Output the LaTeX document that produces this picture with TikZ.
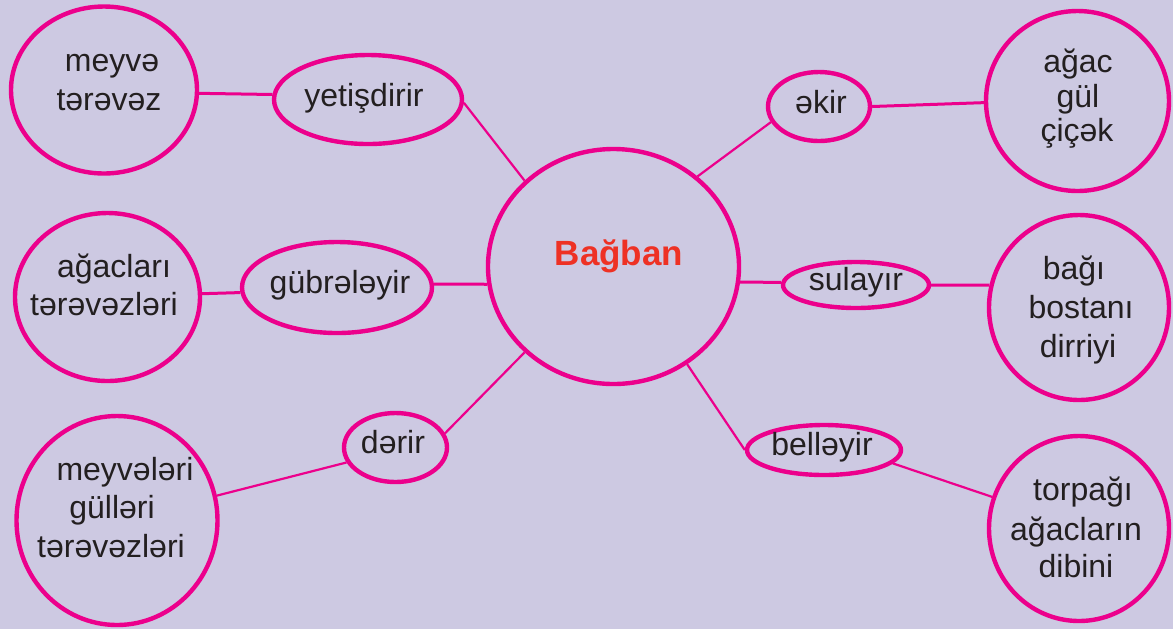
\documentclass[tikz,border=0pt]{standalone}
\usepackage{fontspec}
\setmainfont{Liberation Sans}
\usetikzlibrary{shapes.geometric}
\definecolor{bg}{HTML}{CDC9E2}
\definecolor{pinkline}{HTML}{EC008C}
\definecolor{titlered}{HTML}{EE3124}
\definecolor{ink}{HTML}{231F20}
\newcommand\lblfont{\fontsize{16}{19}\selectfont}
\newcommand\ttlfont{\fontsize{17.5}{20}\selectfont\bfseries}
\tikzset{
  oval/.style={ellipse, draw=pinkline, line width=2.2pt, inner sep=0pt},
  lbl/.style={font=\lblfont, text=ink, anchor=base, inner sep=0pt},
  link/.style={draw=pinkline, line width=1.5pt},
  dlink/.style={draw=pinkline, line width=1.1pt}
}
\begin{document}
\begin{tikzpicture}[x=0.5pt, y=-0.5pt]
\path[fill=bg, use as bounding box] (0,0) rectangle (1173,629);

% shapes
\node[oval, minimum width=93pt,   minimum height=83.5pt] (mt)   at (104,90) {};
\node[oval, minimum width=94pt,   minimum height=44.5pt] (yet)  at (368,99.5) {};
\node[oval, minimum width=51pt,   minimum height=34.5pt] (ekir) at (819,106.5) {};
\node[oval, minimum width=91.5pt, minimum height=90pt]   (agac) at (1077.5,101) {};
\node[oval, minimum width=92.5pt, minimum height=84pt]   (ag)   at (107.5,297) {};
\node[oval, minimum width=95pt,   minimum height=45.5pt] (gub)  at (337,287.5) {};
\node[oval, minimum width=125.5pt,minimum height=117.5pt](ban)  at (613.5,266.5) {};
\node[oval, minimum width=73pt,   minimum height=23pt]   (sul)  at (856,285) {};
\node[oval, minimum width=90pt,   minimum height=92.5pt] (bagi) at (1079,307.5) {};
\node[oval, minimum width=51.5pt, minimum height=34.5pt] (der)  at (395.5,447.5) {};
\node[oval, minimum width=100.5pt,minimum height=104.5pt](mg)   at (117,520.5) {};
\node[oval, minimum width=77pt,   minimum height=25pt]   (bel)  at (824,450) {};
\node[oval, minimum width=90pt,   minimum height=92.5pt] (torp) at (1079,528.5) {};

% texts
\node[lbl] (mt1) at (112,71) {meyvə};
\node[lbl] (mt2) at (109,110) {tərəvəz};
\node[lbl] (yet1) at (364,106) {yetişdirir};
\node[lbl] (ekir1) at (821,113) {əkir};
\node[lbl] (agac1) at (1078,72) {ağac};
\node[lbl] (agac2) at (1078,107) {gül};
\node[lbl] (agac3) at (1077,141) {çiçək};
\node[lbl] (ag1) at (114,277) {ağacları};
\node[lbl] (ag2) at (104,315) {tərəvəzləri};
\node[lbl] (gub1) at (340,293) {gübrələyir};
\node[lbl, font=\ttlfont, text=titlered] (ban1) at (619,265) {Bağban};
\node[lbl] (sul1) at (856,290) {sulayır};
\node[lbl] (bagi1) at (1074,279) {bağı};
\node[lbl] (bagi2) at (1081,318) {bostanı};
\node[lbl] (bagi3) at (1078,357) {dirriyi};
\node[lbl] (der1) at (393,453) {dərir};
\node[lbl] (mg1) at (125,480) {meyvələri};
\node[lbl] (mg2) at (112,518) {gülləri};
\node[lbl] (mg3) at (111,557) {tərəvəzləri};
\node[lbl] (bel1) at (822,455) {belləyir};
\node[lbl] (torp1) at (1083,500) {torpağı};
\node[lbl] (torp2) at (1076,540) {ağacların};
\node[lbl] (torp3) at (1076,577) {dibini};

% connectors
\draw[link]  (mt.-2)   -- (yet.177);
\draw[dlink] (yet.-2)  -- (ban.136);
\draw[dlink] (ban.47)  -- (ekir.198);
\draw[link]  (ekir.east) -- (agac.181);
\draw[link]  (ag.2)    -- (gub.183);
\draw[link]  (gub.2)   -- (ban.188);
\draw[link]  (ban.-7)  -- (sul.178);
\draw[link]  (sul.east) -- (bagi.166);
\draw[dlink] (ban.224) -- (der.16);
\draw[dlink] (der.197) -- (mg.14);
\draw[dlink] (ban.-53) -- (bel.west);
\draw[dlink] (bel.-11) -- (torp.160);
\end{tikzpicture}
\end{document}
